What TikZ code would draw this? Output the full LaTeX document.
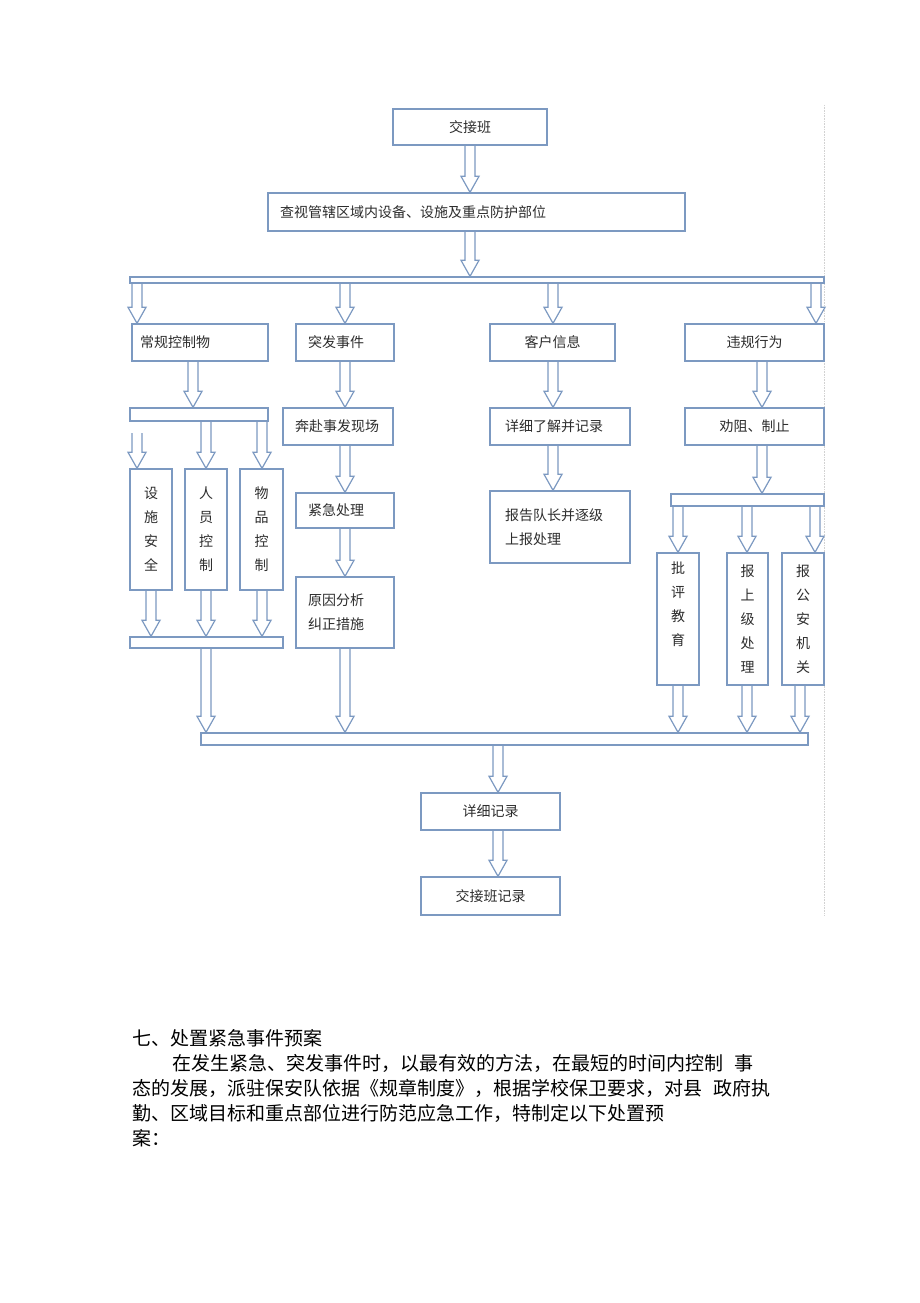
\documentclass[tikz,border=0pt]{standalone}
\usepackage{fontspec}
\newfontfamily\cjk{Noto Sans CJK SC}
\usetikzlibrary{calc,backgrounds}

\definecolor{lineblue}{RGB}{124,153,193}
\definecolor{textgray}{RGB}{45,45,45}

\tikzset{
	box/.style={draw=lineblue, line width=1.4pt, fill=white, inner sep=0pt, text=textgray, font=\cjk\fontsize{14pt}{24pt}\selectfont},
	lbox/.style={box, align=left, inner xsep=12pt},
	vbox/.style={box, align=center},
	bar/.style={draw=lineblue, line width=1.4pt, fill=white, inner sep=0pt},
	blockarr/.style={draw=lineblue, line width=1.2pt, fill=white,
		to path={let \p1=(\tikztostart), \p2=(\tikztotarget) in
			(\x1-5pt,\y1) -- (\x1-5pt,\y2+16pt) -- (\x1-9pt,\y2+16pt) -- (\x1,\y2)
			-- (\x1+9pt,\y2+16pt) -- (\x1+5pt,\y2+16pt) -- (\x1+5pt,\y1)}},
	para/.style={anchor=west, inner sep=0pt, font=\cjk\fontsize{19pt}{25pt}\selectfont}
}

\begin{document}
\begin{tikzpicture}[x=1pt, y=-1pt]
	\useasboundingbox (0,0) rectangle (920,1303);

	%% The top two boxes
	\node[box, minimum width=154pt, minimum height=36pt] at (470,127) (jjb) {交接班};
	\node[lbox, minimum width=417pt, minimum height=38pt, text width=393pt] at (476.5,212) (cs) {查视管辖区域内设备、设施及重点防护部位};
	\node[bar, minimum width=694pt, minimum height=6pt] at (477,280) (bar1) {};

	%% The first row
	\node[lbox, inner xsep=8pt, minimum width=136pt, minimum height=37pt, text width=120pt] at (200,342.5) (cgk) {常规控制物};
	\node[lbox, minimum width=98pt, minimum height=37pt, text width=74pt] at (345,342.5) (tfs) {突发事件};
	\node[box, minimum width=125pt, minimum height=37pt] at (552.5,342.5) (khx) {客户信息};
	\node[box, minimum width=139pt, minimum height=37pt] at (754.5,342.5) (wgx) {违规行为};

	%% The second row
	\node[bar, minimum width=138pt, minimum height=13pt] at (199,414.5) (bar2) {};
	\node[lbox, minimum width=110pt, minimum height=37pt, text width=86pt] at (338,426.5) (bfx) {奔赴事发现场};
	\node[lbox, inner xsep=15pt, minimum width=140pt, minimum height=37pt, text width=110pt] at (560,426.5) (xxl) {详细了解并记录};
	\node[box, minimum width=139pt, minimum height=37pt] at (754.5,426.5) (qzz) {劝阻、制止};

	%% The third row
	\node[vbox, minimum width=42pt, minimum height=121pt] at (151,529.5) (ssa) {设\\施\\安\\全};
	\node[vbox, minimum width=42pt, minimum height=121pt] at (206,529.5) (ryk) {人\\员\\控\\制};
	\node[vbox, minimum width=43pt, minimum height=121pt] at (261.5,529.5) (wpk) {物\\品\\控\\制};
	\node[lbox, minimum width=98pt, minimum height=35pt, text width=74pt] at (345,510.5) (jjc) {紧急处理};
	\node[lbox, minimum width=98pt, minimum height=71pt, text width=74pt] at (345,612.5) (yyf) {原因分析\\纠正措施};
	\node[lbox, inner xsep=15pt, minimum width=140pt, minimum height=72pt, text width=110pt] at (560,527) (bgd) {报告队长并逐级\\上报处理};
	\node[bar, minimum width=153pt, minimum height=12pt] at (747.5,500) (bar4) {};
	\node[vbox, minimum width=42pt, minimum height=132pt] at (678,619) (pjy) {批\\评\\教\\育\\\strut};
	\node[vbox, minimum width=41pt, minimum height=132pt] at (747.5,619) (bsj) {报\\上\\级\\处\\理};
	\node[vbox, minimum width=42pt, minimum height=132pt] at (803,619) (bga) {报\\公\\安\\机\\关};

	%% The lower bars and the output boxes
	\node[bar, minimum width=153pt, minimum height=11pt] at (206.5,642.5) (bar3) {};
	\node[bar, minimum width=607pt, minimum height=12pt] at (504.5,739) (bar5) {};
	\node[box, minimum width=139pt, minimum height=37pt] at (490.5,811.5) (xjl) {详细记录};
	\node[box, minimum width=139pt, minimum height=38pt] at (490.5,896) (jbl) {交接班记录};

	%% The arrow columns
	\coordinate (o) at (470,0);
	\coordinate (a) at (137,0);
	\coordinate (b) at (193,0);
	\coordinate (c) at (345,0);
	\coordinate (d) at (553,0);
	\coordinate (e) at (762,0);
	\coordinate (f) at (816,0);
	\coordinate (g) at (206,0);
	\coordinate (h) at (262,0);
	\coordinate (i) at (151,0);
	\coordinate (j) at (678,0);
	\coordinate (k) at (747,0);
	\coordinate (l) at (815,0);
	\coordinate (m) at (800,0);
	\coordinate (n) at (498,0);
	\coordinate (sstop) at (137,433);

	\begin{pgfonlayer}{background}
		\draw[gray!35, line width=0.6pt, densely dotted] (824,105) -- (824,915);

		\draw[blockarr] (jjb.south -| o) to (cs.north -| o);
		\draw[blockarr] (cs.south -| o) to (bar1.north -| o);

		\draw[blockarr] (bar1.south -| a) to (cgk.north -| a);
		\draw[blockarr] (bar1.south -| c) to (tfs.north -| c);
		\draw[blockarr] (bar1.south -| d) to (khx.north -| d);
		\draw[blockarr] (bar1.south -| f) to (wgx.north -| f);

		\draw[blockarr] (cgk.south -| b) to (bar2.north -| b);
		\draw[blockarr] (tfs.south -| c) to (bfx.north -| c);
		\draw[blockarr] (khx.south -| d) to (xxl.north -| d);
		\draw[blockarr] (wgx.south -| e) to (qzz.north -| e);

		\draw[blockarr] (sstop) to (ssa.north -| a);
		\draw[blockarr] (bar2.south -| g) to (ryk.north -| g);
		\draw[blockarr] (bar2.south -| h) to (wpk.north -| h);
		\draw[blockarr] (bfx.south -| c) to (jjc.north -| c);
		\draw[blockarr] (jjc.south -| c) to (yyf.north -| c);
		\draw[blockarr] (xxl.south -| d) to (bgd.north -| d);
		\draw[blockarr] (qzz.south -| e) to (bar4.north -| e);

		\draw[blockarr] (bar4.south -| j) to (pjy.north -| j);
		\draw[blockarr] (bar4.south -| k) to (bsj.north -| k);
		\draw[blockarr] (bar4.south -| l) to (bga.north -| l);

		\draw[blockarr] (ssa.south -| i) to (bar3.north -| i);
		\draw[blockarr] (ryk.south -| g) to (bar3.north -| g);
		\draw[blockarr] (wpk.south -| h) to (bar3.north -| h);

		\draw[blockarr] (bar3.south -| g) to (bar5.north -| g);
		\draw[blockarr] (yyf.south -| c) to (bar5.north -| c);
		\draw[blockarr] (pjy.south -| j) to (bar5.north -| j);
		\draw[blockarr] (bsj.south -| k) to (bar5.north -| k);
		\draw[blockarr] (bga.south -| m) to (bar5.north -| m);

		\draw[blockarr] (bar5.south -| n) to (xjl.north -| n);
		\draw[blockarr] (xjl.south -| n) to (jbl.north -| n);
	\end{pgfonlayer}

	%% The text under the chart
	\node[para] at (132,1038) (t1) {七、处置紧急事件预案};
	\node[para] at (172,1063) (t2) {在发生紧急、突发事件时，以最有效的方法，在最短的时间内控制\hspace{0.6em}事};
	\node[para] at (132,1088) (t3) {态的发展，派驻保安队依据《规章制度》，根据学校保卫要求，对县\hspace{0.6em}政府执};
	\node[para] at (132,1113) (t4) {勤、区域目标和重点部位进行防范应急工作，特制定以下处置预};
	\node[para] at (132,1138) (t5) {案：};

\end{tikzpicture}
\end{document}
